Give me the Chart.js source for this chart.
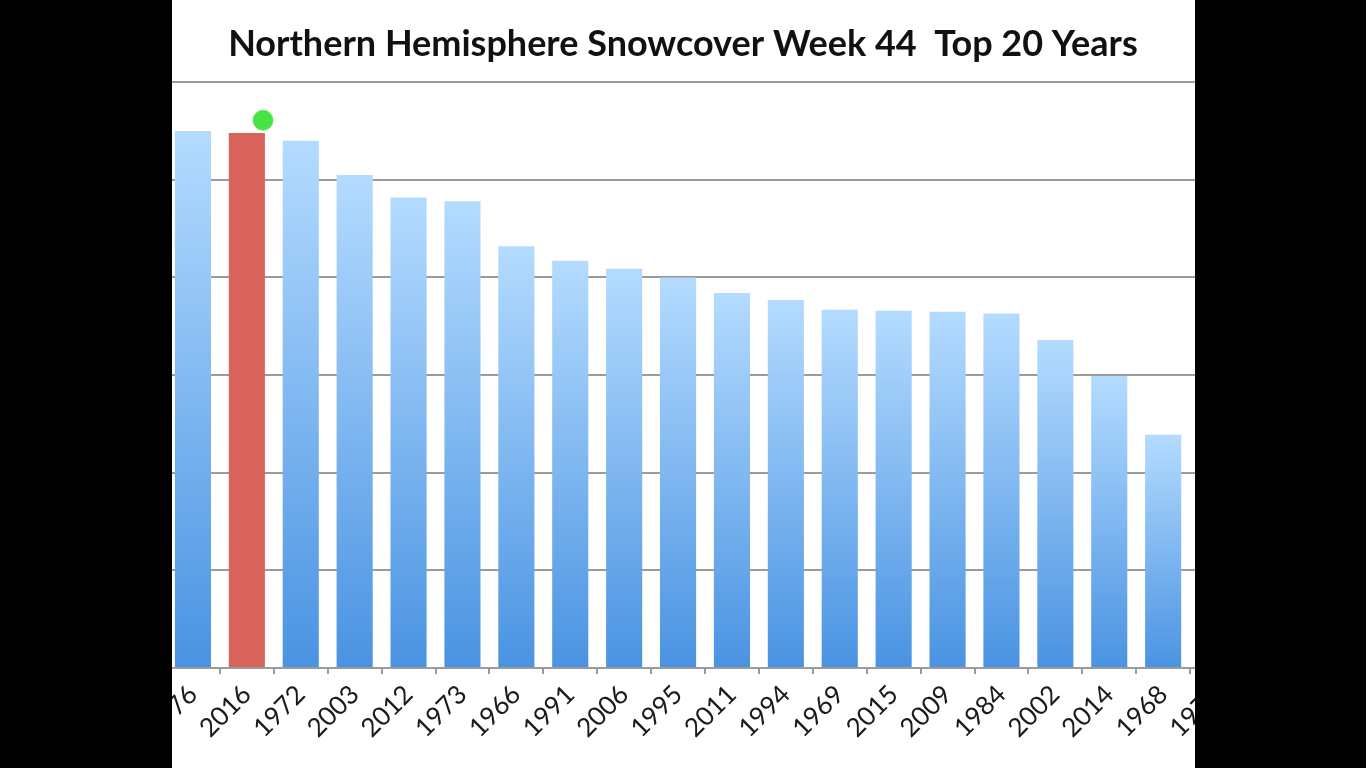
<!DOCTYPE html>
<html>
<head>
<meta charset="utf-8">
<script src="https://cdn.jsdelivr.net/npm/chart.js@4/dist/chart.umd.min.js"></script>
<style>
  html, body { margin: 0; padding: 0; background: #000; width: 1366px; height: 768px; overflow: hidden; }
  #wrap { position: absolute; left: 0; top: 0; width: 1366px; height: 768px; background: #fff; }
  .mask { position: absolute; top: 0; height: 768px; background: #000; z-index: 5; }
</style>
</head>
<body>
<div id="wrap"><canvas id="c" width="1366" height="768"></canvas></div>
<div class="mask" style="left:0;width:172px"></div>
<div class="mask" style="left:1195px;width:171px"></div>
<script>
// ---- data ----
const years = ['1976','2016','1972','2003','2012','1973','1966','1991','2006','1995','2011','1994','1969','2015','2009','1984','2002','2014','1968','1978'];
const snowcover = [5.50,5.48,5.40,5.05,4.82,4.78,4.32,4.17,4.09,4.00,3.84,3.77,3.67,3.66,3.65,3.63,3.36,2.99,2.39,2.20];
const highlightYear = '2016';
const markerPoint = [{ x: 1.30, y: 5.61 }];
const yTicks = [0,1,2,3,4,5,6];
const titleText = 'Northern Hemisphere Snowcover Week 44  Top 20 Years';

const gridGray = '#9b9b9b';

function barFill(ctx) {
  const chart = ctx.chart;
  const area = chart.chartArea;
  const isHi = years[ctx.dataIndex] === highlightYear;
  if (isHi) return '#d9635b';
  if (!area || ctx.type !== 'data') return '#8cc3f5';
  const ys = chart.scales.y;
  const top = ys.getPixelForValue(ctx.raw);
  const bottom = ys.getPixelForValue(0);
  const g = chart.ctx.createLinearGradient(0, top, 0, bottom);
  g.addColorStop(0, '#b4dbff');
  g.addColorStop(1, '#4a93e2');
  return g;
}

new Chart(document.getElementById('c'), {
  data: {
    labels: years,
    datasets: [
      {
        type: 'bar',
        xAxisID: 'x',
        yAxisID: 'y',
        data: snowcover,
        backgroundColor: barFill,
        borderWidth: 0,
        grouped: false,
        categoryPercentage: 1,
        barPercentage: 0.67,
        order: 1
      },
      {
        type: 'scatter',
        xAxisID: 'x2',
        yAxisID: 'y',
        data: markerPoint,
        pointRadius: 10,
        pointHoverRadius: 10,
        pointBackgroundColor: '#45e445',
        pointBorderColor: '#5cec5c',
        pointBorderWidth: 1,
        order: 0
      }
    ]
  },
  options: {
    responsive: false,
    animation: false,
    events: [],
    plugins: {
      legend: { display: false },
      tooltip: { enabled: false },
      title: {
        display: true,
        text: titleText,
        color: '#111',
        font: { family: 'Lato', size: 36, weight: 'bold', lineHeight: 1.2 },
        padding: { top: 23, bottom: 16 }
      }
    },
    layout: { padding: 0 },
    scales: {
      x: {
        type: 'category',
        offset: true,
        grid: { display: true, drawOnChartArea: false, drawTicks: true, tickLength: 6, color: gridGray, lineWidth: 2, offset: true },
        border: { display: true, color: gridGray, width: 2 },
        ticks: {
          color: '#1a1a1a',
          font: { family: 'Lato', size: 26 },
          minRotation: 45, maxRotation: 45,
          autoSkip: false,
          padding: 5
        },
        afterFit: s => { s.height = 100; }
      },
      x2: {
        type: 'linear',
        display: false,
        min: -0.5,
        max: 19.5
      },
      y: {
        position: 'left',
        min: 0,
        max: 6,
        afterBuildTicks: s => { s.ticks = yTicks.map(v => ({ value: v })); },
        grid: { color: gridGray, lineWidth: 2, drawTicks: false },
        border: { display: false },
        ticks: { display: false },
        afterFit: s => { s.width = 166; }
      },
      yRight: {
        position: 'right',
        display: true,
        min: 0,
        max: 6,
        grid: { display: false },
        border: { display: false },
        ticks: { display: false },
        afterFit: s => { s.width = 122; }
      }
    }
  }
});
</script>
</body>
</html>
